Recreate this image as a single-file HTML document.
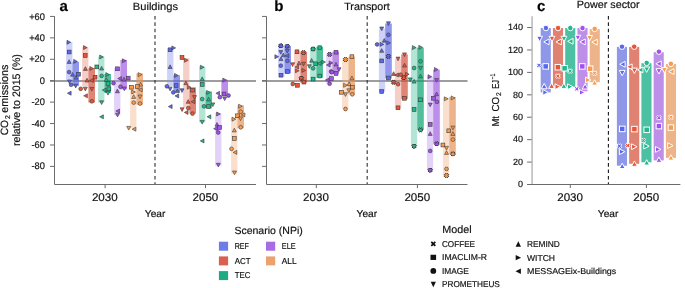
<!DOCTYPE html>
<html><head><meta charset="utf-8"><style>
html,body{margin:0;padding:0;background:#fff;width:685px;height:288px;overflow:hidden}
svg{display:block;will-change:transform}
text{font-family:"Liberation Sans", sans-serif;text-rendering:geometricPrecision;stroke:#111;stroke-width:0.18px;paint-order:stroke}
</style></head><body>
<svg width="685" height="288" viewBox="0 0 685 288" font-family='"Liberation Sans", sans-serif'>
<rect width="685" height="288" fill="#fff"/>
<line x1="50" y1="81" x2="256" y2="81" stroke="#7c7c7c" stroke-width="1.3"/>
<line x1="262" y1="81" x2="467.5" y2="81" stroke="#7c7c7c" stroke-width="1.3"/>
<rect x="66.10" y="42" width="6.3" height="38.80" fill="#878eeb" fill-opacity="0.4"/>
<rect x="72.40" y="61.8" width="6.6" height="24.00" fill="#5f6ae2" fill-opacity="0.7"/>
<rect x="82.10" y="47.2" width="6.3" height="39.10" fill="#e68773" fill-opacity="0.4"/>
<rect x="88.40" y="68.2" width="6.6" height="34.30" fill="#d3513b" fill-opacity="0.7"/>
<rect x="98.10" y="56.7" width="6.3" height="45.80" fill="#3ebe98" fill-opacity="0.4"/>
<rect x="104.40" y="74" width="6.6" height="19.00" fill="#08a46f" fill-opacity="0.7"/>
<rect x="114.10" y="68.2" width="6.3" height="47.10" fill="#b68eee" fill-opacity="0.4"/>
<rect x="120.40" y="59.9" width="6.6" height="29.50" fill="#a15ee0" fill-opacity="0.7"/>
<rect x="130.10" y="86.4" width="6.3" height="42.10" fill="#f0af80" fill-opacity="0.4"/>
<rect x="136.40" y="73.3" width="6.6" height="31.40" fill="#e5945b" fill-opacity="0.7"/>
<rect x="167.10" y="48.2" width="6.3" height="38.20" fill="#878eeb" fill-opacity="0.4"/>
<rect x="173.40" y="75.2" width="6.6" height="17.00" fill="#5f6ae2" fill-opacity="0.7"/>
<rect x="183.10" y="58.1" width="6.3" height="49.50" fill="#e68773" fill-opacity="0.4"/>
<rect x="189.40" y="87.4" width="6.6" height="26.20" fill="#d3513b" fill-opacity="0.7"/>
<rect x="199.10" y="66.5" width="6.3" height="55.90" fill="#3ebe98" fill-opacity="0.4"/>
<rect x="205.40" y="91.5" width="6.6" height="16.80" fill="#08a46f" fill-opacity="0.7"/>
<rect x="215.10" y="112.9" width="6.3" height="52.80" fill="#b68eee" fill-opacity="0.4"/>
<rect x="221.40" y="79.8" width="6.6" height="16.10" fill="#a15ee0" fill-opacity="0.7"/>
<rect x="231.10" y="117.3" width="6.3" height="56.40" fill="#f0af80" fill-opacity="0.4"/>
<rect x="237.40" y="105.4" width="6.6" height="22.80" fill="#e5945b" fill-opacity="0.7"/>
<rect x="278.10" y="45.3" width="6.3" height="31.70" fill="#878eeb" fill-opacity="0.4"/>
<rect x="284.40" y="46" width="6.6" height="27.30" fill="#5f6ae2" fill-opacity="0.7"/>
<rect x="294.10" y="51.2" width="6.3" height="30.80" fill="#e68773" fill-opacity="0.4"/>
<rect x="300.40" y="51.9" width="6.6" height="30.90" fill="#d3513b" fill-opacity="0.7"/>
<rect x="310.10" y="47.8" width="6.3" height="32.80" fill="#3ebe98" fill-opacity="0.4"/>
<rect x="316.40" y="46.8" width="6.6" height="30.90" fill="#08a46f" fill-opacity="0.7"/>
<rect x="326.10" y="54.1" width="6.3" height="29.40" fill="#b68eee" fill-opacity="0.4"/>
<rect x="332.40" y="51.6" width="6.6" height="22.40" fill="#a15ee0" fill-opacity="0.7"/>
<rect x="342.10" y="59.5" width="6.3" height="49.50" fill="#f0af80" fill-opacity="0.4"/>
<rect x="348.40" y="56.7" width="6.6" height="37.80" fill="#e5945b" fill-opacity="0.7"/>
<rect x="378.90" y="28.6" width="6.3" height="63.20" fill="#878eeb" fill-opacity="0.4"/>
<rect x="385.20" y="23.5" width="6.6" height="55.00" fill="#5f6ae2" fill-opacity="0.7"/>
<rect x="394.90" y="58.8" width="6.3" height="49.80" fill="#e68773" fill-opacity="0.4"/>
<rect x="401.20" y="54.4" width="6.6" height="44.70" fill="#d3513b" fill-opacity="0.7"/>
<rect x="410.90" y="47.6" width="6.3" height="98.50" fill="#3ebe98" fill-opacity="0.4"/>
<rect x="417.20" y="47.6" width="6.6" height="82.40" fill="#08a46f" fill-opacity="0.7"/>
<rect x="426.90" y="76.6" width="6.3" height="93.80" fill="#b68eee" fill-opacity="0.4"/>
<rect x="433.20" y="69.7" width="6.6" height="74.20" fill="#a15ee0" fill-opacity="0.7"/>
<rect x="442.90" y="97.7" width="6.3" height="79.30" fill="#f0af80" fill-opacity="0.4"/>
<rect x="449.20" y="97" width="6.6" height="57.10" fill="#e5945b" fill-opacity="0.7"/>
<rect x="540.70" y="28" width="10.1" height="64.40" fill="#8f97e8"/>
<rect x="552.95" y="28" width="10.1" height="58.30" fill="#e08272"/>
<rect x="565.20" y="28" width="10.1" height="58.70" fill="#4cc0a2"/>
<rect x="577.45" y="28" width="10.1" height="63.30" fill="#bd8fe8"/>
<rect x="589.70" y="29.1" width="10.1" height="53.10" fill="#edb48a"/>
<rect x="616.90" y="46.9" width="10.1" height="118.80" fill="#8f97e8"/>
<rect x="629.15" y="46.9" width="10.1" height="116.90" fill="#e08272"/>
<rect x="641.40" y="63.2" width="10.1" height="99.10" fill="#4cc0a2"/>
<rect x="653.65" y="52.2" width="10.1" height="108.20" fill="#bd8fe8"/>
<rect x="665.90" y="64" width="10.1" height="93.90" fill="#edb48a"/>
<path d="M70.70 42.30L67.00 40.30L67.00 44.30Z" fill="#5a68f0" stroke="#3a3a3a" stroke-width="0.6" stroke-linejoin="miter"/>
<rect x="67.30" y="50.10" width="3.80" height="3.80" fill="#5a68f0" stroke="#3a3a3a" stroke-width="0.6" stroke-linejoin="miter"/>
<path d="M69.10 59.70L71.10 63.40L67.10 63.40Z" fill="#5a68f0" stroke="#3a3a3a" stroke-width="0.6" stroke-linejoin="miter"/>
<circle cx="69.10" cy="72.10" r="1.90" fill="#5a68f0" stroke="#3a3a3a" stroke-width="0.6" stroke-linejoin="miter"/>
<path d="M69.50 83.70L71.50 80.00L67.50 80.00Z" fill="#5a68f0" stroke="#3a3a3a" stroke-width="0.6" stroke-linejoin="miter"/>
<path d="M67.40 93.20L71.10 91.20L71.10 95.20Z" fill="#5a68f0" stroke="#3a3a3a" stroke-width="0.6" stroke-linejoin="miter"/>
<path d="M77.40 61.40L73.70 59.40L73.70 63.40Z" fill="#5a68f0" stroke="#3a3a3a" stroke-width="0.6" stroke-linejoin="miter"/>
<path d="M72.50 72.50L74.50 76.20L70.50 76.20Z" fill="#5a68f0" stroke="#3a3a3a" stroke-width="0.6" stroke-linejoin="miter"/>
<rect x="76.50" y="72.30" width="3.80" height="3.80" fill="#5a68f0" stroke="#3a3a3a" stroke-width="0.6" stroke-linejoin="miter"/>
<path d="M75.90 75.50L77.90 79.20L73.90 79.20Z" fill="#5a68f0" stroke="#3a3a3a" stroke-width="0.6" stroke-linejoin="miter"/>
<circle cx="71.10" cy="84.70" r="1.90" fill="#5a68f0" stroke="#3a3a3a" stroke-width="0.6" stroke-linejoin="miter"/>
<path d="M75.70 87.90L77.70 84.20L73.70 84.20Z" fill="#5a68f0" stroke="#3a3a3a" stroke-width="0.6" stroke-linejoin="miter"/>
<path d="M87.20 47.60L83.50 45.60L83.50 49.60Z" fill="#e8553a" stroke="#3a3a3a" stroke-width="0.6" stroke-linejoin="miter"/>
<rect x="83.30" y="53.60" width="3.80" height="3.80" fill="#e8553a" stroke="#3a3a3a" stroke-width="0.6" stroke-linejoin="miter"/>
<path d="M85.40 66.70L87.40 70.40L83.40 70.40Z" fill="#e8553a" stroke="#3a3a3a" stroke-width="0.6" stroke-linejoin="miter"/>
<path d="M87.00 78.30L89.00 82.00L85.00 82.00Z" fill="#e8553a" stroke="#3a3a3a" stroke-width="0.6" stroke-linejoin="miter"/>
<circle cx="80.70" cy="88.80" r="1.90" fill="#e8553a" stroke="#3a3a3a" stroke-width="0.6" stroke-linejoin="miter"/>
<path d="M85.30 90.90L87.30 87.20L83.30 87.20Z" fill="#e8553a" stroke="#3a3a3a" stroke-width="0.6" stroke-linejoin="miter"/>
<path d="M83.70 95.80L87.40 93.80L87.40 97.80Z" fill="#e8553a" stroke="#3a3a3a" stroke-width="0.6" stroke-linejoin="miter"/>
<path d="M93.50 68.50L89.80 66.50L89.80 70.50Z" fill="#e8553a" stroke="#3a3a3a" stroke-width="0.6" stroke-linejoin="miter"/>
<rect x="93.20" y="75.30" width="3.80" height="3.80" fill="#e8553a" stroke="#3a3a3a" stroke-width="0.6" stroke-linejoin="miter"/>
<path d="M89.70 80.40L93.40 78.40L93.40 82.40Z" fill="#e8553a" stroke="#3a3a3a" stroke-width="0.6" stroke-linejoin="miter"/>
<path d="M91.80 91.10L93.80 87.40L89.80 87.40Z" fill="#e8553a" stroke="#3a3a3a" stroke-width="0.6" stroke-linejoin="miter"/>
<circle cx="91.80" cy="101.30" r="1.90" fill="#e8553a" stroke="#3a3a3a" stroke-width="0.6" stroke-linejoin="miter"/>
<path d="M103.40 57.00L99.70 55.00L99.70 59.00Z" fill="#1fb98a" stroke="#3a3a3a" stroke-width="0.6" stroke-linejoin="miter"/>
<rect x="94.90" y="65.00" width="3.80" height="3.80" fill="#1fb98a" stroke="#3a3a3a" stroke-width="0.6" stroke-linejoin="miter"/>
<path d="M101.60 66.30L103.60 70.00L99.60 70.00Z" fill="#1fb98a" stroke="#3a3a3a" stroke-width="0.6" stroke-linejoin="miter"/>
<circle cx="101.60" cy="75.90" r="1.90" fill="#1fb98a" stroke="#3a3a3a" stroke-width="0.6" stroke-linejoin="miter"/>
<path d="M101.60 104.50L103.60 100.80L99.60 100.80Z" fill="#1fb98a" stroke="#3a3a3a" stroke-width="0.6" stroke-linejoin="miter"/>
<path d="M99.70 116.80L103.40 114.80L103.40 118.80Z" fill="#1fb98a" stroke="#3a3a3a" stroke-width="0.6" stroke-linejoin="miter"/>
<path d="M109.50 74.60L105.80 72.60L105.80 76.60Z" fill="#1fb98a" stroke="#3a3a3a" stroke-width="0.6" stroke-linejoin="miter"/>
<path d="M106.30 77.70L108.30 81.40L104.30 81.40Z" fill="#1fb98a" stroke="#3a3a3a" stroke-width="0.6" stroke-linejoin="miter"/>
<rect x="106.10" y="81.70" width="3.80" height="3.80" fill="#1fb98a" stroke="#3a3a3a" stroke-width="0.6" stroke-linejoin="miter"/>
<rect x="107.00" y="86.90" width="3.80" height="3.80" fill="#1fb98a" stroke="#3a3a3a" stroke-width="0.6" stroke-linejoin="miter"/>
<path d="M102.30 90.10L106.00 88.10L106.00 92.10Z" fill="#1fb98a" stroke="#3a3a3a" stroke-width="0.6" stroke-linejoin="miter"/>
<path d="M108.00 95.10L110.00 91.40L106.00 91.40Z" fill="#1fb98a" stroke="#3a3a3a" stroke-width="0.6" stroke-linejoin="miter"/>
<rect x="115.60" y="66.90" width="3.80" height="3.80" fill="#a150f2" stroke="#3a3a3a" stroke-width="0.6" stroke-linejoin="miter"/>
<circle cx="113.50" cy="83.20" r="1.90" fill="#a150f2" stroke="#3a3a3a" stroke-width="0.6" stroke-linejoin="miter"/>
<path d="M117.40 89.10L119.40 92.80L115.40 92.80Z" fill="#a150f2" stroke="#3a3a3a" stroke-width="0.6" stroke-linejoin="miter"/>
<path d="M115.80 111.00L119.50 109.00L119.50 113.00Z" fill="#a150f2" stroke="#3a3a3a" stroke-width="0.6" stroke-linejoin="miter"/>
<path d="M117.50 116.90L119.50 113.20L115.50 113.20Z" fill="#a150f2" stroke="#3a3a3a" stroke-width="0.6" stroke-linejoin="miter"/>
<path d="M126.10 60.80L122.40 58.80L122.40 62.80Z" fill="#a150f2" stroke="#3a3a3a" stroke-width="0.6" stroke-linejoin="miter"/>
<path d="M117.70 78.50L121.40 76.50L121.40 80.50Z" fill="#a150f2" stroke="#3a3a3a" stroke-width="0.6" stroke-linejoin="miter"/>
<path d="M123.90 77.30L125.90 81.00L121.90 81.00Z" fill="#a150f2" stroke="#3a3a3a" stroke-width="0.6" stroke-linejoin="miter"/>
<rect x="126.30" y="76.20" width="3.80" height="3.80" fill="#a150f2" stroke="#3a3a3a" stroke-width="0.6" stroke-linejoin="miter"/>
<circle cx="120.50" cy="86.70" r="1.90" fill="#a150f2" stroke="#3a3a3a" stroke-width="0.6" stroke-linejoin="miter"/>
<path d="M124.30 90.70L126.30 87.00L122.30 87.00Z" fill="#a150f2" stroke="#3a3a3a" stroke-width="0.6" stroke-linejoin="miter"/>
<rect x="129.50" y="85.30" width="3.80" height="3.80" fill="#f99c4b" stroke="#3a3a3a" stroke-width="0.6" stroke-linejoin="miter"/>
<path d="M135.40 92.00L131.70 90.00L131.70 94.00Z" fill="#f99c4b" stroke="#3a3a3a" stroke-width="0.6" stroke-linejoin="miter"/>
<path d="M133.70 94.70L135.70 98.40L131.70 98.40Z" fill="#f99c4b" stroke="#3a3a3a" stroke-width="0.6" stroke-linejoin="miter"/>
<circle cx="133.70" cy="102.60" r="1.90" fill="#f99c4b" stroke="#3a3a3a" stroke-width="0.6" stroke-linejoin="miter"/>
<path d="M128.70 130.10L130.70 126.40L126.70 126.40Z" fill="#f99c4b" stroke="#3a3a3a" stroke-width="0.6" stroke-linejoin="miter"/>
<path d="M132.20 129.20L135.90 127.20L135.90 131.20Z" fill="#f99c4b" stroke="#3a3a3a" stroke-width="0.6" stroke-linejoin="miter"/>
<path d="M141.90 74.60L138.20 72.60L138.20 76.60Z" fill="#f99c4b" stroke="#3a3a3a" stroke-width="0.6" stroke-linejoin="miter"/>
<path d="M140.60 82.40L142.60 86.10L138.60 86.10Z" fill="#f99c4b" stroke="#3a3a3a" stroke-width="0.6" stroke-linejoin="miter"/>
<rect x="135.30" y="84.70" width="3.80" height="3.80" fill="#f99c4b" stroke="#3a3a3a" stroke-width="0.6" stroke-linejoin="miter"/>
<path d="M138.50 89.80L142.20 87.80L142.20 91.80Z" fill="#f99c4b" stroke="#3a3a3a" stroke-width="0.6" stroke-linejoin="miter"/>
<path d="M140.00 98.70L142.00 95.00L138.00 95.00Z" fill="#f99c4b" stroke="#3a3a3a" stroke-width="0.6" stroke-linejoin="miter"/>
<circle cx="140.00" cy="103.60" r="1.90" fill="#f99c4b" stroke="#3a3a3a" stroke-width="0.6" stroke-linejoin="miter"/>
<rect x="168.20" y="47.90" width="3.80" height="3.80" fill="#5a68f0" stroke="#3a3a3a" stroke-width="0.6" stroke-linejoin="miter"/>
<path d="M175.60 47.90L171.90 45.90L171.90 49.90Z" fill="#5a68f0" stroke="#3a3a3a" stroke-width="0.6" stroke-linejoin="miter"/>
<path d="M170.10 64.80L172.10 68.50L168.10 68.50Z" fill="#5a68f0" stroke="#3a3a3a" stroke-width="0.6" stroke-linejoin="miter"/>
<circle cx="166.90" cy="86.30" r="1.90" fill="#5a68f0" stroke="#3a3a3a" stroke-width="0.6" stroke-linejoin="miter"/>
<path d="M170.10 90.90L172.10 87.20L168.10 87.20Z" fill="#5a68f0" stroke="#3a3a3a" stroke-width="0.6" stroke-linejoin="miter"/>
<path d="M168.40 106.60L172.10 104.60L172.10 108.60Z" fill="#5a68f0" stroke="#3a3a3a" stroke-width="0.6" stroke-linejoin="miter"/>
<path d="M178.20 75.40L174.50 73.40L174.50 77.40Z" fill="#5a68f0" stroke="#3a3a3a" stroke-width="0.6" stroke-linejoin="miter"/>
<rect x="174.20" y="83.70" width="3.80" height="3.80" fill="#5a68f0" stroke="#3a3a3a" stroke-width="0.6" stroke-linejoin="miter"/>
<path d="M177.40 88.90L179.40 92.60L175.40 92.60Z" fill="#5a68f0" stroke="#3a3a3a" stroke-width="0.6" stroke-linejoin="miter"/>
<circle cx="173.30" cy="92.40" r="1.90" fill="#5a68f0" stroke="#3a3a3a" stroke-width="0.6" stroke-linejoin="miter"/>
<path d="M182.00 92.50L184.00 88.80L180.00 88.80Z" fill="#5a68f0" stroke="#3a3a3a" stroke-width="0.6" stroke-linejoin="miter"/>
<path d="M175.00 95.90L178.70 93.90L178.70 97.90Z" fill="#5a68f0" stroke="#3a3a3a" stroke-width="0.6" stroke-linejoin="miter"/>
<rect x="180.10" y="55.60" width="3.80" height="3.80" fill="#e8553a" stroke="#3a3a3a" stroke-width="0.6" stroke-linejoin="miter"/>
<path d="M188.20 60.30L184.50 58.30L184.50 62.30Z" fill="#e8553a" stroke="#3a3a3a" stroke-width="0.6" stroke-linejoin="miter"/>
<path d="M185.90 81.00L187.90 84.70L183.90 84.70Z" fill="#e8553a" stroke="#3a3a3a" stroke-width="0.6" stroke-linejoin="miter"/>
<path d="M182.10 111.50L184.10 107.80L180.10 107.80Z" fill="#e8553a" stroke="#3a3a3a" stroke-width="0.6" stroke-linejoin="miter"/>
<circle cx="188.30" cy="108.10" r="1.90" fill="#e8553a" stroke="#3a3a3a" stroke-width="0.6" stroke-linejoin="miter"/>
<path d="M184.30 112.40L188.00 110.40L188.00 114.40Z" fill="#e8553a" stroke="#3a3a3a" stroke-width="0.6" stroke-linejoin="miter"/>
<path d="M191.00 87.30L187.30 85.30L187.30 89.30Z" fill="#e8553a" stroke="#3a3a3a" stroke-width="0.6" stroke-linejoin="miter"/>
<rect x="190.60" y="88.20" width="3.80" height="3.80" fill="#e8553a" stroke="#3a3a3a" stroke-width="0.6" stroke-linejoin="miter"/>
<path d="M194.50 99.30L196.50 95.60L192.50 95.60Z" fill="#e8553a" stroke="#3a3a3a" stroke-width="0.6" stroke-linejoin="miter"/>
<path d="M188.20 99.60L190.20 103.30L186.20 103.30Z" fill="#e8553a" stroke="#3a3a3a" stroke-width="0.6" stroke-linejoin="miter"/>
<path d="M191.10 101.70L194.80 99.70L194.80 103.70Z" fill="#e8553a" stroke="#3a3a3a" stroke-width="0.6" stroke-linejoin="miter"/>
<circle cx="192.50" cy="113.60" r="1.90" fill="#e8553a" stroke="#3a3a3a" stroke-width="0.6" stroke-linejoin="miter"/>
<path d="M204.10 67.20L200.40 65.20L200.40 69.20Z" fill="#1fb98a" stroke="#3a3a3a" stroke-width="0.6" stroke-linejoin="miter"/>
<path d="M202.20 76.90L204.20 80.60L200.20 80.60Z" fill="#1fb98a" stroke="#3a3a3a" stroke-width="0.6" stroke-linejoin="miter"/>
<rect x="200.30" y="82.50" width="3.80" height="3.80" fill="#1fb98a" stroke="#3a3a3a" stroke-width="0.6" stroke-linejoin="miter"/>
<circle cx="202.20" cy="99.10" r="1.90" fill="#1fb98a" stroke="#3a3a3a" stroke-width="0.6" stroke-linejoin="miter"/>
<path d="M202.20 124.10L204.20 120.40L200.20 120.40Z" fill="#1fb98a" stroke="#3a3a3a" stroke-width="0.6" stroke-linejoin="miter"/>
<path d="M200.30 140.90L204.00 138.90L204.00 142.90Z" fill="#1fb98a" stroke="#3a3a3a" stroke-width="0.6" stroke-linejoin="miter"/>
<path d="M210.30 92.40L206.60 90.40L206.60 94.40Z" fill="#1fb98a" stroke="#3a3a3a" stroke-width="0.6" stroke-linejoin="miter"/>
<path d="M208.60 97.30L210.60 101.00L206.60 101.00Z" fill="#1fb98a" stroke="#3a3a3a" stroke-width="0.6" stroke-linejoin="miter"/>
<circle cx="203.90" cy="106.30" r="1.90" fill="#1fb98a" stroke="#3a3a3a" stroke-width="0.6" stroke-linejoin="miter"/>
<rect x="206.70" y="104.70" width="3.80" height="3.80" fill="#1fb98a" stroke="#3a3a3a" stroke-width="0.6" stroke-linejoin="miter"/>
<path d="M212.80 106.60L214.80 102.90L210.80 102.90Z" fill="#1fb98a" stroke="#3a3a3a" stroke-width="0.6" stroke-linejoin="miter"/>
<path d="M207.10 116.80L210.80 114.80L210.80 118.80Z" fill="#1fb98a" stroke="#3a3a3a" stroke-width="0.6" stroke-linejoin="miter"/>
<path d="M220.30 114.00L216.60 112.00L216.60 116.00Z" fill="#a150f2" stroke="#3a3a3a" stroke-width="0.6" stroke-linejoin="miter"/>
<path d="M217.00 122.50L219.00 126.20L215.00 126.20Z" fill="#a150f2" stroke="#3a3a3a" stroke-width="0.6" stroke-linejoin="miter"/>
<rect x="217.60" y="125.50" width="3.80" height="3.80" fill="#a150f2" stroke="#3a3a3a" stroke-width="0.6" stroke-linejoin="miter"/>
<path d="M213.60 128.70L217.30 126.70L217.30 130.70Z" fill="#a150f2" stroke="#3a3a3a" stroke-width="0.6" stroke-linejoin="miter"/>
<circle cx="218.20" cy="132.50" r="1.90" fill="#a150f2" stroke="#3a3a3a" stroke-width="0.6" stroke-linejoin="miter"/>
<path d="M218.30 167.00L220.30 163.30L216.30 163.30Z" fill="#a150f2" stroke="#3a3a3a" stroke-width="0.6" stroke-linejoin="miter"/>
<path d="M226.50 80.10L222.80 78.10L222.80 82.10Z" fill="#a150f2" stroke="#3a3a3a" stroke-width="0.6" stroke-linejoin="miter"/>
<path d="M215.90 93.30L219.60 91.30L219.60 95.30Z" fill="#a150f2" stroke="#3a3a3a" stroke-width="0.6" stroke-linejoin="miter"/>
<circle cx="219.80" cy="97.20" r="1.90" fill="#a150f2" stroke="#3a3a3a" stroke-width="0.6" stroke-linejoin="miter"/>
<rect x="222.10" y="92.10" width="3.80" height="3.80" fill="#a150f2" stroke="#3a3a3a" stroke-width="0.6" stroke-linejoin="miter"/>
<circle cx="228.50" cy="95.50" r="1.90" fill="#a150f2" stroke="#3a3a3a" stroke-width="0.6" stroke-linejoin="miter"/>
<path d="M224.70 100.60L226.70 96.90L222.70 96.90Z" fill="#a150f2" stroke="#3a3a3a" stroke-width="0.6" stroke-linejoin="miter"/>
<path d="M235.70 119.20L232.00 117.20L232.00 121.20Z" fill="#f99c4b" stroke="#3a3a3a" stroke-width="0.6" stroke-linejoin="miter"/>
<path d="M234.30 128.20L236.30 131.90L232.30 131.90Z" fill="#f99c4b" stroke="#3a3a3a" stroke-width="0.6" stroke-linejoin="miter"/>
<rect x="232.40" y="136.60" width="3.80" height="3.80" fill="#f99c4b" stroke="#3a3a3a" stroke-width="0.6" stroke-linejoin="miter"/>
<circle cx="231.50" cy="148.80" r="1.90" fill="#f99c4b" stroke="#3a3a3a" stroke-width="0.6" stroke-linejoin="miter"/>
<path d="M233.10 152.40L236.80 150.40L236.80 154.40Z" fill="#f99c4b" stroke="#3a3a3a" stroke-width="0.6" stroke-linejoin="miter"/>
<path d="M234.50 174.70L236.50 171.00L232.50 171.00Z" fill="#f99c4b" stroke="#3a3a3a" stroke-width="0.6" stroke-linejoin="miter"/>
<path d="M242.30 106.20L238.60 104.20L238.60 108.20Z" fill="#f99c4b" stroke="#3a3a3a" stroke-width="0.6" stroke-linejoin="miter"/>
<circle cx="240.70" cy="111.70" r="1.90" fill="#f99c4b" stroke="#3a3a3a" stroke-width="0.6" stroke-linejoin="miter"/>
<rect x="235.60" y="113.90" width="3.80" height="3.80" fill="#f99c4b" stroke="#3a3a3a" stroke-width="0.6" stroke-linejoin="miter"/>
<path d="M241.20 114.90L244.90 112.90L244.90 116.90Z" fill="#f99c4b" stroke="#3a3a3a" stroke-width="0.6" stroke-linejoin="miter"/>
<path d="M240.50 120.60L242.50 116.90L238.50 116.90Z" fill="#f99c4b" stroke="#3a3a3a" stroke-width="0.6" stroke-linejoin="miter"/>
<circle cx="240.70" cy="127.30" r="1.90" fill="#f99c4b" stroke="#3a3a3a" stroke-width="0.6" stroke-linejoin="miter"/>
<polygon points="280.02,47.99 280.80,47.21 281.58,47.99 282.99,46.58 282.21,45.80 282.99,45.02 281.58,43.61 280.80,44.39 280.02,43.61 278.61,45.02 279.39,45.80 278.61,46.58" fill="#5a68f0" stroke="#2a2a2a" stroke-width="0.9" stroke-linejoin="miter"/>
<path d="M280.80 54.30L282.80 50.60L278.80 50.60Z" fill="#5a68f0" stroke="#3a3a3a" stroke-width="0.6" stroke-linejoin="miter"/>
<path d="M278.60 56.70L274.90 54.70L274.90 58.70Z" fill="#5a68f0" stroke="#3a3a3a" stroke-width="0.6" stroke-linejoin="miter"/>
<path d="M281.00 56.90L283.00 60.60L279.00 60.60Z" fill="#5a68f0" stroke="#3a3a3a" stroke-width="0.6" stroke-linejoin="miter"/>
<circle cx="280.80" cy="65.70" r="1.90" fill="#5a68f0" stroke="#3a3a3a" stroke-width="0.6" stroke-linejoin="miter"/>
<rect x="279.10" y="73.30" width="3.80" height="3.80" fill="#5a68f0" stroke="#3a3a3a" stroke-width="0.6" stroke-linejoin="miter"/>
<polygon points="286.52,48.39 287.30,47.61 288.08,48.39 289.49,46.98 288.71,46.20 289.49,45.42 288.08,44.01 287.30,44.79 286.52,44.01 285.11,45.42 285.89,46.20 285.11,46.98" fill="#5a68f0" stroke="#2a2a2a" stroke-width="0.9" stroke-linejoin="miter"/>
<path d="M287.30 53.00L289.30 49.30L285.30 49.30Z" fill="#5a68f0" stroke="#3a3a3a" stroke-width="0.6" stroke-linejoin="miter"/>
<path d="M283.30 53.10L285.30 56.80L281.30 56.80Z" fill="#5a68f0" stroke="#3a3a3a" stroke-width="0.6" stroke-linejoin="miter"/>
<path d="M285.20 55.70L288.90 53.70L288.90 57.70Z" fill="#5a68f0" stroke="#3a3a3a" stroke-width="0.6" stroke-linejoin="miter"/>
<circle cx="287.40" cy="60.80" r="1.90" fill="#5a68f0" stroke="#3a3a3a" stroke-width="0.6" stroke-linejoin="miter"/>
<rect x="285.50" y="69.70" width="3.80" height="3.80" fill="#5a68f0" stroke="#3a3a3a" stroke-width="0.6" stroke-linejoin="miter"/>
<rect x="295.10" y="49.90" width="3.80" height="3.80" fill="#e8553a" stroke="#3a3a3a" stroke-width="0.6" stroke-linejoin="miter"/>
<path d="M292.60 66.50L294.60 62.80L290.60 62.80Z" fill="#e8553a" stroke="#3a3a3a" stroke-width="0.6" stroke-linejoin="miter"/>
<path d="M299.00 61.00L301.00 64.70L297.00 64.70Z" fill="#e8553a" stroke="#3a3a3a" stroke-width="0.6" stroke-linejoin="miter"/>
<path d="M294.90 67.00L298.60 65.00L298.60 69.00Z" fill="#e8553a" stroke="#3a3a3a" stroke-width="0.6" stroke-linejoin="miter"/>
<path d="M299.10 70.80L295.40 68.80L295.40 72.80Z" fill="#e8553a" stroke="#3a3a3a" stroke-width="0.6" stroke-linejoin="miter"/>
<circle cx="292.80" cy="84.00" r="1.90" fill="#e8553a" stroke="#3a3a3a" stroke-width="0.6" stroke-linejoin="miter"/>
<rect x="295.50" y="83.40" width="3.80" height="3.80" fill="#e8553a" stroke="#3a3a3a" stroke-width="0.6" stroke-linejoin="miter"/>
<polygon points="302.72,54.79 303.50,54.01 304.28,54.79 305.69,53.38 304.91,52.60 305.69,51.82 304.28,50.41 303.50,51.19 302.72,50.41 301.31,51.82 302.09,52.60 301.31,53.38" fill="#e8553a" stroke="#2a2a2a" stroke-width="0.9" stroke-linejoin="miter"/>
<path d="M303.50 65.90L305.50 62.20L301.50 62.20Z" fill="#e8553a" stroke="#3a3a3a" stroke-width="0.6" stroke-linejoin="miter"/>
<path d="M305.60 70.40L301.90 68.40L301.90 72.40Z" fill="#e8553a" stroke="#3a3a3a" stroke-width="0.6" stroke-linejoin="miter"/>
<polygon points="300.52,80.39 301.30,79.61 302.08,80.39 303.49,78.98 302.71,78.20 303.49,77.42 302.08,76.01 301.30,76.79 300.52,76.01 299.11,77.42 299.89,78.20 299.11,78.98" fill="#e8553a" stroke="#2a2a2a" stroke-width="0.9" stroke-linejoin="miter"/>
<rect x="302.00" y="80.20" width="3.80" height="3.80" fill="#e8553a" stroke="#3a3a3a" stroke-width="0.6" stroke-linejoin="miter"/>
<polygon points="312.32,51.19 313.10,50.41 313.88,51.19 315.29,49.78 314.51,49.00 315.29,48.22 313.88,46.81 313.10,47.59 312.32,46.81 310.91,48.22 311.69,49.00 310.91,49.78" fill="#1fb98a" stroke="#2a2a2a" stroke-width="0.9" stroke-linejoin="miter"/>
<path d="M311.60 58.50L313.60 62.20L309.60 62.20Z" fill="#1fb98a" stroke="#3a3a3a" stroke-width="0.6" stroke-linejoin="miter"/>
<path d="M309.30 68.40L311.30 64.70L307.30 64.70Z" fill="#1fb98a" stroke="#3a3a3a" stroke-width="0.6" stroke-linejoin="miter"/>
<circle cx="313.10" cy="68.30" r="1.90" fill="#1fb98a" stroke="#3a3a3a" stroke-width="0.6" stroke-linejoin="miter"/>
<rect x="311.20" y="77.20" width="3.80" height="3.80" fill="#1fb98a" stroke="#3a3a3a" stroke-width="0.6" stroke-linejoin="miter"/>
<rect x="317.90" y="45.80" width="3.80" height="3.80" fill="#1fb98a" stroke="#3a3a3a" stroke-width="0.6" stroke-linejoin="miter"/>
<rect x="313.80" y="61.90" width="3.80" height="3.80" fill="#1fb98a" stroke="#3a3a3a" stroke-width="0.6" stroke-linejoin="miter"/>
<path d="M317.50 63.50L321.20 61.50L321.20 65.50Z" fill="#1fb98a" stroke="#3a3a3a" stroke-width="0.6" stroke-linejoin="miter"/>
<path d="M325.50 62.10L321.80 60.10L321.80 64.10Z" fill="#1fb98a" stroke="#3a3a3a" stroke-width="0.6" stroke-linejoin="miter"/>
<rect x="317.90" y="74.10" width="3.80" height="3.80" fill="#1fb98a" stroke="#3a3a3a" stroke-width="0.6" stroke-linejoin="miter"/>
<polygon points="328.82,56.59 329.60,55.81 330.38,56.59 331.79,55.18 331.01,54.40 331.79,53.62 330.38,52.21 329.60,52.99 328.82,52.21 327.41,53.62 328.19,54.40 327.41,55.18" fill="#a150f2" stroke="#2a2a2a" stroke-width="0.9" stroke-linejoin="miter"/>
<path d="M332.90 62.90L329.20 60.90L329.20 64.90Z" fill="#a150f2" stroke="#3a3a3a" stroke-width="0.6" stroke-linejoin="miter"/>
<path d="M326.40 65.00L330.10 63.00L330.10 67.00Z" fill="#a150f2" stroke="#3a3a3a" stroke-width="0.6" stroke-linejoin="miter"/>
<circle cx="331.10" cy="71.50" r="1.90" fill="#a150f2" stroke="#3a3a3a" stroke-width="0.6" stroke-linejoin="miter"/>
<path d="M325.40 80.10L329.10 78.10L329.10 82.10Z" fill="#a150f2" stroke="#3a3a3a" stroke-width="0.6" stroke-linejoin="miter"/>
<rect x="329.50" y="76.70" width="3.80" height="3.80" fill="#a150f2" stroke="#3a3a3a" stroke-width="0.6" stroke-linejoin="miter"/>
<circle cx="329.60" cy="83.70" r="1.90" fill="#a150f2" stroke="#3a3a3a" stroke-width="0.6" stroke-linejoin="miter"/>
<rect x="334.10" y="50.30" width="3.80" height="3.80" fill="#a150f2" stroke="#3a3a3a" stroke-width="0.6" stroke-linejoin="miter"/>
<path d="M336.00 62.30L338.00 66.00L334.00 66.00Z" fill="#a150f2" stroke="#3a3a3a" stroke-width="0.6" stroke-linejoin="miter"/>
<path d="M339.00 71.40L341.00 67.70L337.00 67.70Z" fill="#a150f2" stroke="#3a3a3a" stroke-width="0.6" stroke-linejoin="miter"/>
<circle cx="331.90" cy="72.20" r="1.90" fill="#a150f2" stroke="#3a3a3a" stroke-width="0.6" stroke-linejoin="miter"/>
<rect x="334.10" y="71.60" width="3.80" height="3.80" fill="#a150f2" stroke="#3a3a3a" stroke-width="0.6" stroke-linejoin="miter"/>
<polygon points="344.72,61.69 345.50,60.91 346.28,61.69 347.69,60.28 346.91,59.50 347.69,58.72 346.28,57.31 345.50,58.09 344.72,57.31 343.31,58.72 344.09,59.50 343.31,60.28" fill="#f99c4b" stroke="#2a2a2a" stroke-width="0.9" stroke-linejoin="miter"/>
<rect x="339.50" y="90.40" width="3.80" height="3.80" fill="#f99c4b" stroke="#3a3a3a" stroke-width="0.6" stroke-linejoin="miter"/>
<path d="M345.50 96.40L347.50 92.70L343.50 92.70Z" fill="#f99c4b" stroke="#3a3a3a" stroke-width="0.6" stroke-linejoin="miter"/>
<circle cx="345.50" cy="109.00" r="1.90" fill="#f99c4b" stroke="#3a3a3a" stroke-width="0.6" stroke-linejoin="miter"/>
<rect x="350.00" y="54.80" width="3.80" height="3.80" fill="#f99c4b" stroke="#3a3a3a" stroke-width="0.6" stroke-linejoin="miter"/>
<path d="M351.90 76.10L353.90 79.80L349.90 79.80Z" fill="#f99c4b" stroke="#3a3a3a" stroke-width="0.6" stroke-linejoin="miter"/>
<path d="M349.10 81.90L351.10 85.60L347.10 85.60Z" fill="#f99c4b" stroke="#3a3a3a" stroke-width="0.6" stroke-linejoin="miter"/>
<path d="M347.30 85.30L343.60 83.30L343.60 87.30Z" fill="#f99c4b" stroke="#3a3a3a" stroke-width="0.6" stroke-linejoin="miter"/>
<rect x="350.40" y="85.30" width="3.80" height="3.80" fill="#f99c4b" stroke="#3a3a3a" stroke-width="0.6" stroke-linejoin="miter"/>
<path d="M348.80 92.50L350.80 88.80L346.80 88.80Z" fill="#f99c4b" stroke="#3a3a3a" stroke-width="0.6" stroke-linejoin="miter"/>
<circle cx="352.30" cy="94.30" r="1.90" fill="#f99c4b" stroke="#3a3a3a" stroke-width="0.6" stroke-linejoin="miter"/>
<path d="M381.70 30.70L383.70 27.00L379.70 27.00Z" fill="#5a68f0" stroke="#3a3a3a" stroke-width="0.6" stroke-linejoin="miter"/>
<circle cx="377.10" cy="44.40" r="1.90" fill="#5a68f0" stroke="#3a3a3a" stroke-width="0.6" stroke-linejoin="miter"/>
<path d="M383.80 44.40L380.10 42.40L380.10 46.40Z" fill="#5a68f0" stroke="#3a3a3a" stroke-width="0.6" stroke-linejoin="miter"/>
<path d="M381.70 48.60L383.70 52.30L379.70 52.30Z" fill="#5a68f0" stroke="#3a3a3a" stroke-width="0.6" stroke-linejoin="miter"/>
<rect x="379.80" y="59.00" width="3.80" height="3.80" fill="#5a68f0" stroke="#3a3a3a" stroke-width="0.6" stroke-linejoin="miter"/>
<rect x="379.80" y="89.60" width="3.80" height="3.80" fill="#5a68f0" stroke="#3a3a3a" stroke-width="0.6" stroke-linejoin="miter"/>
<path d="M388.40 25.50L390.40 21.80L386.40 21.80Z" fill="#5a68f0" stroke="#3a3a3a" stroke-width="0.6" stroke-linejoin="miter"/>
<circle cx="388.40" cy="34.80" r="1.90" fill="#5a68f0" stroke="#3a3a3a" stroke-width="0.6" stroke-linejoin="miter"/>
<path d="M384.30 38.50L386.30 42.20L382.30 42.20Z" fill="#5a68f0" stroke="#3a3a3a" stroke-width="0.6" stroke-linejoin="miter"/>
<path d="M390.50 42.90L386.80 40.90L386.80 44.90Z" fill="#5a68f0" stroke="#3a3a3a" stroke-width="0.6" stroke-linejoin="miter"/>
<polygon points="387.62,58.59 388.40,57.81 389.18,58.59 390.59,57.18 389.81,56.40 390.59,55.62 389.18,54.21 388.40,54.99 387.62,54.21 386.21,55.62 386.99,56.40 386.21,57.18" fill="#5a68f0" stroke="#2a2a2a" stroke-width="0.9" stroke-linejoin="miter"/>
<rect x="386.50" y="76.10" width="3.80" height="3.80" fill="#5a68f0" stroke="#3a3a3a" stroke-width="0.6" stroke-linejoin="miter"/>
<path d="M398.00 60.80L400.00 57.10L396.00 57.10Z" fill="#e8553a" stroke="#3a3a3a" stroke-width="0.6" stroke-linejoin="miter"/>
<path d="M393.60 71.70L395.60 75.40L391.60 75.40Z" fill="#e8553a" stroke="#3a3a3a" stroke-width="0.6" stroke-linejoin="miter"/>
<path d="M394.70 75.00L398.40 73.00L398.40 77.00Z" fill="#e8553a" stroke="#3a3a3a" stroke-width="0.6" stroke-linejoin="miter"/>
<polygon points="392.82,84.49 393.60,83.71 394.38,84.49 395.79,83.08 395.01,82.30 395.79,81.52 394.38,80.11 393.60,80.89 392.82,80.11 391.41,81.52 392.19,82.30 391.41,83.08" fill="#e8553a" stroke="#2a2a2a" stroke-width="0.9" stroke-linejoin="miter"/>
<circle cx="398.00" cy="84.20" r="1.90" fill="#e8553a" stroke="#3a3a3a" stroke-width="0.6" stroke-linejoin="miter"/>
<rect x="396.10" y="105.90" width="3.80" height="3.80" fill="#e8553a" stroke="#3a3a3a" stroke-width="0.6" stroke-linejoin="miter"/>
<path d="M404.50 56.60L406.50 52.90L402.50 52.90Z" fill="#e8553a" stroke="#3a3a3a" stroke-width="0.6" stroke-linejoin="miter"/>
<path d="M404.50 63.30L406.50 67.00L402.50 67.00Z" fill="#e8553a" stroke="#3a3a3a" stroke-width="0.6" stroke-linejoin="miter"/>
<circle cx="400.60" cy="74.70" r="1.90" fill="#e8553a" stroke="#3a3a3a" stroke-width="0.6" stroke-linejoin="miter"/>
<path d="M409.10 74.20L405.40 72.20L405.40 76.20Z" fill="#e8553a" stroke="#3a3a3a" stroke-width="0.6" stroke-linejoin="miter"/>
<polygon points="403.02,79.79 403.80,79.01 404.58,79.79 405.99,78.38 405.21,77.60 405.99,76.82 404.58,75.41 403.80,76.19 403.02,75.41 401.61,76.82 402.39,77.60 401.61,78.38" fill="#e8553a" stroke="#2a2a2a" stroke-width="0.9" stroke-linejoin="miter"/>
<rect x="402.60" y="96.40" width="3.80" height="3.80" fill="#e8553a" stroke="#3a3a3a" stroke-width="0.6" stroke-linejoin="miter"/>
<path d="M416.10 47.60L412.40 45.60L412.40 49.60Z" fill="#1fb98a" stroke="#3a3a3a" stroke-width="0.6" stroke-linejoin="miter"/>
<circle cx="414.10" cy="68.00" r="1.90" fill="#1fb98a" stroke="#3a3a3a" stroke-width="0.6" stroke-linejoin="miter"/>
<path d="M410.30 81.60L412.30 77.90L408.30 77.90Z" fill="#1fb98a" stroke="#3a3a3a" stroke-width="0.6" stroke-linejoin="miter"/>
<path d="M414.10 79.40L416.10 83.10L412.10 83.10Z" fill="#1fb98a" stroke="#3a3a3a" stroke-width="0.6" stroke-linejoin="miter"/>
<rect x="412.20" y="107.60" width="3.80" height="3.80" fill="#1fb98a" stroke="#3a3a3a" stroke-width="0.6" stroke-linejoin="miter"/>
<polygon points="413.32,148.39 414.10,147.61 414.88,148.39 416.29,146.98 415.51,146.20 416.29,145.42 414.88,144.01 414.10,144.79 413.32,144.01 411.91,145.42 412.69,146.20 411.91,146.98" fill="#1fb98a" stroke="#2a2a2a" stroke-width="0.9" stroke-linejoin="miter"/>
<path d="M422.50 47.30L418.80 45.30L418.80 49.30Z" fill="#1fb98a" stroke="#3a3a3a" stroke-width="0.6" stroke-linejoin="miter"/>
<circle cx="420.50" cy="61.30" r="1.90" fill="#1fb98a" stroke="#3a3a3a" stroke-width="0.6" stroke-linejoin="miter"/>
<path d="M420.50 70.10L422.50 66.40L418.50 66.40Z" fill="#1fb98a" stroke="#3a3a3a" stroke-width="0.6" stroke-linejoin="miter"/>
<path d="M420.50 74.20L422.50 77.90L418.50 77.90Z" fill="#1fb98a" stroke="#3a3a3a" stroke-width="0.6" stroke-linejoin="miter"/>
<rect x="418.60" y="97.90" width="3.80" height="3.80" fill="#1fb98a" stroke="#3a3a3a" stroke-width="0.6" stroke-linejoin="miter"/>
<polygon points="419.72,132.09 420.50,131.31 421.28,132.09 422.69,130.68 421.91,129.90 422.69,129.12 421.28,127.71 420.50,128.49 419.72,127.71 418.31,129.12 419.09,129.90 418.31,130.68" fill="#1fb98a" stroke="#2a2a2a" stroke-width="0.9" stroke-linejoin="miter"/>
<path d="M431.70 76.70L428.00 74.70L428.00 78.70Z" fill="#a150f2" stroke="#3a3a3a" stroke-width="0.6" stroke-linejoin="miter"/>
<path d="M430.20 106.80L432.20 103.10L428.20 103.10Z" fill="#a150f2" stroke="#3a3a3a" stroke-width="0.6" stroke-linejoin="miter"/>
<rect x="428.30" y="122.50" width="3.80" height="3.80" fill="#a150f2" stroke="#3a3a3a" stroke-width="0.6" stroke-linejoin="miter"/>
<path d="M430.20 131.70L432.20 135.40L428.20 135.40Z" fill="#a150f2" stroke="#3a3a3a" stroke-width="0.6" stroke-linejoin="miter"/>
<circle cx="430.20" cy="150.90" r="1.90" fill="#a150f2" stroke="#3a3a3a" stroke-width="0.6" stroke-linejoin="miter"/>
<polygon points="429.42,172.39 430.20,171.61 430.98,172.39 432.39,170.98 431.61,170.20 432.39,169.42 430.98,168.01 430.20,168.79 429.42,168.01 428.01,169.42 428.79,170.20 428.01,170.98" fill="#a150f2" stroke="#2a2a2a" stroke-width="0.9" stroke-linejoin="miter"/>
<path d="M438.10 69.50L434.40 67.50L434.40 71.50Z" fill="#a150f2" stroke="#3a3a3a" stroke-width="0.6" stroke-linejoin="miter"/>
<path d="M436.60 82.30L438.60 78.60L434.60 78.60Z" fill="#a150f2" stroke="#3a3a3a" stroke-width="0.6" stroke-linejoin="miter"/>
<path d="M436.60 92.00L438.60 95.70L434.60 95.70Z" fill="#a150f2" stroke="#3a3a3a" stroke-width="0.6" stroke-linejoin="miter"/>
<rect x="431.50" y="96.40" width="3.80" height="3.80" fill="#a150f2" stroke="#3a3a3a" stroke-width="0.6" stroke-linejoin="miter"/>
<circle cx="437.00" cy="101.80" r="1.90" fill="#a150f2" stroke="#3a3a3a" stroke-width="0.6" stroke-linejoin="miter"/>
<polygon points="435.92,145.99 436.70,145.21 437.48,145.99 438.89,144.58 438.11,143.80 438.89,143.02 437.48,141.61 436.70,142.39 435.92,141.61 434.51,143.02 435.29,143.80 434.51,144.58" fill="#a150f2" stroke="#2a2a2a" stroke-width="0.9" stroke-linejoin="miter"/>
<path d="M448.10 98.80L444.40 96.80L444.40 100.80Z" fill="#f99c4b" stroke="#3a3a3a" stroke-width="0.6" stroke-linejoin="miter"/>
<rect x="441.00" y="143.10" width="3.80" height="3.80" fill="#f99c4b" stroke="#3a3a3a" stroke-width="0.6" stroke-linejoin="miter"/>
<path d="M446.50 150.10L448.50 146.40L444.50 146.40Z" fill="#f99c4b" stroke="#3a3a3a" stroke-width="0.6" stroke-linejoin="miter"/>
<path d="M446.50 150.70L448.50 154.40L444.50 154.40Z" fill="#f99c4b" stroke="#3a3a3a" stroke-width="0.6" stroke-linejoin="miter"/>
<circle cx="446.50" cy="168.90" r="1.90" fill="#f99c4b" stroke="#3a3a3a" stroke-width="0.6" stroke-linejoin="miter"/>
<polygon points="445.72,177.69 446.50,176.91 447.28,177.69 448.69,176.28 447.91,175.50 448.69,174.72 447.28,173.31 446.50,174.09 445.72,173.31 444.31,174.72 445.09,175.50 444.31,176.28" fill="#f99c4b" stroke="#2a2a2a" stroke-width="0.9" stroke-linejoin="miter"/>
<path d="M454.90 97.90L451.20 95.90L451.20 99.90Z" fill="#f99c4b" stroke="#3a3a3a" stroke-width="0.6" stroke-linejoin="miter"/>
<path d="M452.90 129.80L454.90 126.10L450.90 126.10Z" fill="#f99c4b" stroke="#3a3a3a" stroke-width="0.6" stroke-linejoin="miter"/>
<rect x="446.90" y="128.90" width="3.80" height="3.80" fill="#f99c4b" stroke="#3a3a3a" stroke-width="0.6" stroke-linejoin="miter"/>
<path d="M452.90 131.70L454.90 135.40L450.90 135.40Z" fill="#f99c4b" stroke="#3a3a3a" stroke-width="0.6" stroke-linejoin="miter"/>
<circle cx="452.90" cy="139.60" r="1.90" fill="#f99c4b" stroke="#3a3a3a" stroke-width="0.6" stroke-linejoin="miter"/>
<polygon points="452.12,156.09 452.90,155.31 453.68,156.09 455.09,154.68 454.31,153.90 455.09,153.12 453.68,151.71 452.90,152.49 452.12,151.71 450.71,153.12 451.49,153.90 450.71,154.68" fill="#f99c4b" stroke="#2a2a2a" stroke-width="0.9" stroke-linejoin="miter"/>
<circle cx="545.90" cy="28.00" r="2.75" fill="#5a68f0" stroke="#ffffff" stroke-width="1.0" stroke-linejoin="miter"/>
<circle cx="558.10" cy="28.00" r="2.75" fill="#e8553a" stroke="#ffffff" stroke-width="1.0" stroke-linejoin="miter"/>
<circle cx="570.30" cy="28.00" r="2.75" fill="#1fb98a" stroke="#ffffff" stroke-width="1.0" stroke-linejoin="miter"/>
<circle cx="582.50" cy="28.10" r="2.75" fill="#a150f2" stroke="#ffffff" stroke-width="1.0" stroke-linejoin="miter"/>
<circle cx="594.70" cy="28.90" r="2.75" fill="#f99c4b" stroke="#ffffff" stroke-width="1.0" stroke-linejoin="miter"/>
<path d="M539.60 41.65L542.50 36.28L536.70 36.28Z" fill="#5a68f0" stroke="#ffffff" stroke-width="1.0" stroke-linejoin="miter"/>
<path d="M552.00 41.65L554.90 36.28L549.10 36.28Z" fill="#e8553a" stroke="#ffffff" stroke-width="1.0" stroke-linejoin="miter"/>
<path d="M564.00 41.65L566.90 36.28L561.10 36.28Z" fill="#1fb98a" stroke="#ffffff" stroke-width="1.0" stroke-linejoin="miter"/>
<path d="M577.90 40.65L580.80 35.28L575.00 35.28Z" fill="#a150f2" stroke="#ffffff" stroke-width="1.0" stroke-linejoin="miter"/>
<path d="M589.60 40.84L592.50 35.48L586.70 35.48Z" fill="#f99c4b" stroke="#ffffff" stroke-width="1.0" stroke-linejoin="miter"/>
<path d="M543.75 41.90L549.12 39.00L549.12 44.80Z" fill="#5a68f0" stroke="#ffffff" stroke-width="1.0" stroke-linejoin="miter"/>
<path d="M555.96 41.90L561.32 39.00L561.32 44.80Z" fill="#e8553a" stroke="#ffffff" stroke-width="1.0" stroke-linejoin="miter"/>
<path d="M567.66 41.30L573.02 38.40L573.02 44.20Z" fill="#1fb98a" stroke="#ffffff" stroke-width="1.0" stroke-linejoin="miter"/>
<path d="M579.86 41.90L585.22 39.00L585.22 44.80Z" fill="#a150f2" stroke="#ffffff" stroke-width="1.0" stroke-linejoin="miter"/>
<path d="M591.86 42.20L597.22 39.30L597.22 45.10Z" fill="#f99c4b" stroke="#ffffff" stroke-width="1.0" stroke-linejoin="miter"/>
<polygon points="537.87,67.66 539.00,66.53 540.13,67.66 541.36,66.43 540.23,65.30 541.36,64.17 540.13,62.94 539.00,64.07 537.87,62.94 536.64,64.17 537.77,65.30 536.64,66.43" fill="#5a68f0" stroke="#ffffff" stroke-width="1.0" stroke-linejoin="miter"/>
<rect x="542.95" y="63.65" width="5.51" height="5.51" fill="#5a68f0" stroke="#ffffff" stroke-width="1.0" stroke-linejoin="miter"/>
<path d="M544.20 83.45L547.10 88.82L541.30 88.82Z" fill="#5a68f0" stroke="#ffffff" stroke-width="1.0" stroke-linejoin="miter"/>
<path d="M548.14 92.40L542.78 89.50L542.78 95.30Z" fill="#5a68f0" stroke="#ffffff" stroke-width="1.0" stroke-linejoin="miter"/>
<rect x="555.14" y="64.45" width="5.51" height="5.51" fill="#e8553a" stroke="#ffffff" stroke-width="1.0" stroke-linejoin="miter"/>
<polygon points="556.77,78.46 557.90,77.33 559.03,78.46 560.26,77.23 559.13,76.10 560.26,74.97 559.03,73.74 557.90,74.87 556.77,73.74 555.54,74.97 556.67,76.10 555.54,77.23" fill="#e8553a" stroke="#ffffff" stroke-width="1.0" stroke-linejoin="miter"/>
<path d="M551.60 83.05L554.50 88.42L548.70 88.42Z" fill="#e8553a" stroke="#ffffff" stroke-width="1.0" stroke-linejoin="miter"/>
<path d="M560.34 86.70L554.98 83.80L554.98 89.60Z" fill="#e8553a" stroke="#ffffff" stroke-width="1.0" stroke-linejoin="miter"/>
<rect x="561.85" y="65.55" width="5.51" height="5.51" fill="#1fb98a" stroke="#ffffff" stroke-width="1.0" stroke-linejoin="miter"/>
<polygon points="568.97,73.46 570.10,72.33 571.23,73.46 572.46,72.23 571.33,71.10 572.46,69.97 571.23,68.74 570.10,69.87 568.97,68.74 567.74,69.97 568.87,71.10 567.74,72.23" fill="#1fb98a" stroke="#ffffff" stroke-width="1.0" stroke-linejoin="miter"/>
<path d="M563.80 83.05L566.70 88.42L560.90 88.42Z" fill="#1fb98a" stroke="#ffffff" stroke-width="1.0" stroke-linejoin="miter"/>
<path d="M572.84 86.70L567.48 83.80L567.48 89.60Z" fill="#1fb98a" stroke="#ffffff" stroke-width="1.0" stroke-linejoin="miter"/>
<rect x="579.54" y="63.65" width="5.51" height="5.51" fill="#a150f2" stroke="#ffffff" stroke-width="1.0" stroke-linejoin="miter"/>
<polygon points="575.67,91.26 576.80,90.13 577.93,91.26 579.16,90.03 578.03,88.90 579.16,87.77 577.93,86.54 576.80,87.67 575.67,86.54 574.44,87.77 575.57,88.90 574.44,90.03" fill="#a150f2" stroke="#ffffff" stroke-width="1.0" stroke-linejoin="miter"/>
<path d="M585.10 83.66L588.00 89.02L582.20 89.02Z" fill="#a150f2" stroke="#ffffff" stroke-width="1.0" stroke-linejoin="miter"/>
<path d="M584.84 92.40L579.48 89.50L579.48 95.30Z" fill="#a150f2" stroke="#ffffff" stroke-width="1.0" stroke-linejoin="miter"/>
<rect x="587.35" y="65.95" width="5.51" height="5.51" fill="#f99c4b" stroke="#ffffff" stroke-width="1.0" stroke-linejoin="miter"/>
<polygon points="593.47,75.66 594.60,74.53 595.73,75.66 596.96,74.43 595.83,73.30 596.96,72.17 595.73,70.94 594.60,72.07 593.47,70.94 592.24,72.17 593.37,73.30 592.24,74.43" fill="#f99c4b" stroke="#ffffff" stroke-width="1.0" stroke-linejoin="miter"/>
<path d="M590.94 80.00L585.58 77.10L585.58 82.90Z" fill="#f99c4b" stroke="#ffffff" stroke-width="1.0" stroke-linejoin="miter"/>
<path d="M594.60 79.75L597.50 85.12L591.70 85.12Z" fill="#f99c4b" stroke="#ffffff" stroke-width="1.0" stroke-linejoin="miter"/>
<circle cx="622.00" cy="46.70" r="2.75" fill="#5a68f0" stroke="#ffffff" stroke-width="1.0" stroke-linejoin="miter"/>
<circle cx="634.20" cy="46.70" r="2.75" fill="#e8553a" stroke="#ffffff" stroke-width="1.0" stroke-linejoin="miter"/>
<circle cx="646.70" cy="62.90" r="2.75" fill="#1fb98a" stroke="#ffffff" stroke-width="1.0" stroke-linejoin="miter"/>
<circle cx="658.90" cy="51.70" r="2.75" fill="#a150f2" stroke="#ffffff" stroke-width="1.0" stroke-linejoin="miter"/>
<circle cx="670.90" cy="63.80" r="2.75" fill="#f99c4b" stroke="#ffffff" stroke-width="1.0" stroke-linejoin="miter"/>
<path d="M619.75 64.30L625.12 61.40L625.12 67.20Z" fill="#5a68f0" stroke="#ffffff" stroke-width="1.0" stroke-linejoin="miter"/>
<path d="M626.75 66.80L632.12 63.90L632.12 69.70Z" fill="#e8553a" stroke="#ffffff" stroke-width="1.0" stroke-linejoin="miter"/>
<path d="M637.56 69.90L642.92 67.00L642.92 72.80Z" fill="#1fb98a" stroke="#ffffff" stroke-width="1.0" stroke-linejoin="miter"/>
<path d="M655.86 63.80L661.22 60.90L661.22 66.70Z" fill="#a150f2" stroke="#ffffff" stroke-width="1.0" stroke-linejoin="miter"/>
<path d="M668.66 71.60L674.02 68.70L674.02 74.50Z" fill="#f99c4b" stroke="#ffffff" stroke-width="1.0" stroke-linejoin="miter"/>
<path d="M622.20 75.75L625.10 70.38L619.30 70.38Z" fill="#5a68f0" stroke="#ffffff" stroke-width="1.0" stroke-linejoin="miter"/>
<path d="M634.40 73.45L637.30 68.08L631.50 68.08Z" fill="#e8553a" stroke="#ffffff" stroke-width="1.0" stroke-linejoin="miter"/>
<path d="M646.70 72.34L649.60 66.98L643.80 66.98Z" fill="#1fb98a" stroke="#ffffff" stroke-width="1.0" stroke-linejoin="miter"/>
<path d="M658.90 74.05L661.80 68.68L656.00 68.68Z" fill="#a150f2" stroke="#ffffff" stroke-width="1.0" stroke-linejoin="miter"/>
<path d="M664.40 72.95L667.30 67.58L661.50 67.58Z" fill="#f99c4b" stroke="#ffffff" stroke-width="1.0" stroke-linejoin="miter"/>
<polygon points="618.27,148.46 619.40,147.33 620.53,148.46 621.76,147.23 620.63,146.10 621.76,144.97 620.53,143.74 619.40,144.87 618.27,143.74 617.04,144.97 618.17,146.10 617.04,147.23" fill="#5a68f0" stroke="#ffffff" stroke-width="1.0" stroke-linejoin="miter"/>
<polygon points="626.67,147.96 627.80,146.83 628.93,147.96 630.16,146.73 629.03,145.60 630.16,144.47 628.93,143.24 627.80,144.37 626.67,143.24 625.44,144.47 626.57,145.60 625.44,146.73" fill="#e8553a" stroke="#ffffff" stroke-width="1.0" stroke-linejoin="miter"/>
<polygon points="642.17,142.96 643.30,141.83 644.43,142.96 645.66,141.73 644.53,140.60 645.66,139.47 644.43,138.24 643.30,139.37 642.17,138.24 640.94,139.47 642.07,140.60 640.94,141.73" fill="#1fb98a" stroke="#ffffff" stroke-width="1.0" stroke-linejoin="miter"/>
<polygon points="657.77,120.16 658.90,119.03 660.03,120.16 661.26,118.93 660.13,117.80 661.26,116.67 660.03,115.44 658.90,116.57 657.77,115.44 656.54,116.67 657.67,117.80 656.54,118.93" fill="#a150f2" stroke="#ffffff" stroke-width="1.0" stroke-linejoin="miter"/>
<polygon points="669.77,119.56 670.90,118.43 672.03,119.56 673.26,118.33 672.13,117.20 673.26,116.07 672.03,114.84 670.90,115.97 669.77,114.84 668.54,116.07 669.67,117.20 668.54,118.33" fill="#f99c4b" stroke="#ffffff" stroke-width="1.0" stroke-linejoin="miter"/>
<rect x="619.45" y="126.15" width="5.51" height="5.51" fill="#5a68f0" stroke="#ffffff" stroke-width="1.0" stroke-linejoin="miter"/>
<rect x="631.64" y="126.34" width="5.51" height="5.51" fill="#e8553a" stroke="#ffffff" stroke-width="1.0" stroke-linejoin="miter"/>
<rect x="643.95" y="127.05" width="5.51" height="5.51" fill="#1fb98a" stroke="#ffffff" stroke-width="1.0" stroke-linejoin="miter"/>
<rect x="656.14" y="123.34" width="5.51" height="5.51" fill="#a150f2" stroke="#ffffff" stroke-width="1.0" stroke-linejoin="miter"/>
<rect x="668.14" y="124.84" width="5.51" height="5.51" fill="#f99c4b" stroke="#ffffff" stroke-width="1.0" stroke-linejoin="miter"/>
<path d="M624.75 151.70L619.38 148.80L619.38 154.60Z" fill="#5a68f0" stroke="#ffffff" stroke-width="1.0" stroke-linejoin="miter"/>
<path d="M636.94 146.70L631.58 143.80L631.58 149.60Z" fill="#e8553a" stroke="#ffffff" stroke-width="1.0" stroke-linejoin="miter"/>
<path d="M649.14 146.10L643.78 143.20L643.78 149.00Z" fill="#1fb98a" stroke="#ffffff" stroke-width="1.0" stroke-linejoin="miter"/>
<path d="M660.84 149.40L655.48 146.50L655.48 152.30Z" fill="#a150f2" stroke="#ffffff" stroke-width="1.0" stroke-linejoin="miter"/>
<path d="M673.04 145.60L667.68 142.70L667.68 148.50Z" fill="#f99c4b" stroke="#ffffff" stroke-width="1.0" stroke-linejoin="miter"/>
<path d="M622.20 163.16L625.10 168.52L619.30 168.52Z" fill="#5a68f0" stroke="#ffffff" stroke-width="1.0" stroke-linejoin="miter"/>
<path d="M634.40 160.96L637.30 166.32L631.50 166.32Z" fill="#e8553a" stroke="#ffffff" stroke-width="1.0" stroke-linejoin="miter"/>
<path d="M646.70 159.66L649.60 165.02L643.80 165.02Z" fill="#1fb98a" stroke="#ffffff" stroke-width="1.0" stroke-linejoin="miter"/>
<path d="M658.90 156.96L661.80 162.32L656.00 162.32Z" fill="#a150f2" stroke="#ffffff" stroke-width="1.0" stroke-linejoin="miter"/>
<path d="M670.90 154.76L673.80 160.12L668.00 160.12Z" fill="#f99c4b" stroke="#ffffff" stroke-width="1.0" stroke-linejoin="miter"/>
<line x1="155" y1="15.9" x2="155" y2="184" stroke="#383838" stroke-width="1.15" stroke-dasharray="3.6 2.8"/>
<line x1="367.2" y1="15.9" x2="367.2" y2="184" stroke="#383838" stroke-width="1.15" stroke-dasharray="3.6 2.8"/>
<line x1="608.4" y1="15.9" x2="608.4" y2="184" stroke="#1a1a1a" stroke-width="1.1" stroke-dasharray="3.6 2.8"/>
<path d="M54.5 16.3 V184.5 H256" fill="none" stroke="#6b6b6b" stroke-width="1" stroke-linejoin="miter"/>
<line x1="50.0" y1="16.43" x2="54.5" y2="16.43" stroke="#6b6b6b" stroke-width="1"/>
<line x1="50.0" y1="37.86" x2="54.5" y2="37.86" stroke="#6b6b6b" stroke-width="1"/>
<line x1="50.0" y1="59.28" x2="54.5" y2="59.28" stroke="#6b6b6b" stroke-width="1"/>
<line x1="50.0" y1="80.70" x2="54.5" y2="80.70" stroke="#6b6b6b" stroke-width="1"/>
<line x1="50.0" y1="102.12" x2="54.5" y2="102.12" stroke="#6b6b6b" stroke-width="1"/>
<line x1="50.0" y1="123.54" x2="54.5" y2="123.54" stroke="#6b6b6b" stroke-width="1"/>
<line x1="50.0" y1="144.97" x2="54.5" y2="144.97" stroke="#6b6b6b" stroke-width="1"/>
<line x1="50.0" y1="166.39" x2="54.5" y2="166.39" stroke="#6b6b6b" stroke-width="1"/>
<path d="M266.5 16.3 V184.5 H467.5" fill="none" stroke="#6b6b6b" stroke-width="1" stroke-linejoin="miter"/>
<line x1="262.0" y1="16.43" x2="266.5" y2="16.43" stroke="#6b6b6b" stroke-width="1"/>
<line x1="262.0" y1="37.86" x2="266.5" y2="37.86" stroke="#6b6b6b" stroke-width="1"/>
<line x1="262.0" y1="59.28" x2="266.5" y2="59.28" stroke="#6b6b6b" stroke-width="1"/>
<line x1="262.0" y1="80.70" x2="266.5" y2="80.70" stroke="#6b6b6b" stroke-width="1"/>
<line x1="262.0" y1="102.12" x2="266.5" y2="102.12" stroke="#6b6b6b" stroke-width="1"/>
<line x1="262.0" y1="123.54" x2="266.5" y2="123.54" stroke="#6b6b6b" stroke-width="1"/>
<line x1="262.0" y1="144.97" x2="266.5" y2="144.97" stroke="#6b6b6b" stroke-width="1"/>
<line x1="262.0" y1="166.39" x2="266.5" y2="166.39" stroke="#6b6b6b" stroke-width="1"/>
<line x1="105.1" y1="184.2" x2="105.1" y2="188.2" stroke="#6b6b6b" stroke-width="1"/>
<line x1="205.5" y1="184.2" x2="205.5" y2="188.2" stroke="#6b6b6b" stroke-width="1"/>
<line x1="316.3" y1="184.2" x2="316.3" y2="188.2" stroke="#6b6b6b" stroke-width="1"/>
<line x1="417.4" y1="184.2" x2="417.4" y2="188.2" stroke="#6b6b6b" stroke-width="1"/>
<line x1="532.1" y1="16.3" x2="532.1" y2="184.5" stroke="#c4c4c4" stroke-width="1.8"/>
<line x1="527.2" y1="184.5" x2="680.4" y2="184.5" stroke="#6b6b6b" stroke-width="1"/>
<line x1="527.1" y1="184.50" x2="531.6" y2="184.50" stroke="#6b6b6b" stroke-width="1"/>
<text x="523.1" y="187.2" font-size="9.0" text-anchor="end" font-weight="normal" fill="#111" >0</text>
<line x1="527.1" y1="162.08" x2="531.6" y2="162.08" stroke="#6b6b6b" stroke-width="1"/>
<text x="523.1" y="164.77999999999997" font-size="9.0" text-anchor="end" font-weight="normal" fill="#111" >20</text>
<line x1="527.1" y1="139.66" x2="531.6" y2="139.66" stroke="#6b6b6b" stroke-width="1"/>
<text x="523.1" y="142.35999999999999" font-size="9.0" text-anchor="end" font-weight="normal" fill="#111" >40</text>
<line x1="527.1" y1="117.24" x2="531.6" y2="117.24" stroke="#6b6b6b" stroke-width="1"/>
<text x="523.1" y="119.94" font-size="9.0" text-anchor="end" font-weight="normal" fill="#111" >60</text>
<line x1="527.1" y1="94.82" x2="531.6" y2="94.82" stroke="#6b6b6b" stroke-width="1"/>
<text x="523.1" y="97.52" font-size="9.0" text-anchor="end" font-weight="normal" fill="#111" >80</text>
<line x1="527.1" y1="72.40" x2="531.6" y2="72.40" stroke="#6b6b6b" stroke-width="1"/>
<text x="523.1" y="75.10000000000001" font-size="9.0" text-anchor="end" font-weight="normal" fill="#111" >100</text>
<line x1="527.1" y1="49.98" x2="531.6" y2="49.98" stroke="#6b6b6b" stroke-width="1"/>
<text x="523.1" y="52.67999999999999" font-size="9.0" text-anchor="end" font-weight="normal" fill="#111" >120</text>
<line x1="527.1" y1="27.56" x2="531.6" y2="27.56" stroke="#6b6b6b" stroke-width="1"/>
<text x="523.1" y="30.26" font-size="9.0" text-anchor="end" font-weight="normal" fill="#111" >140</text>
<line x1="570.3" y1="184.2" x2="570.3" y2="188" stroke="#6b6b6b" stroke-width="1"/>
<line x1="646.4" y1="184.2" x2="646.4" y2="188" stroke="#6b6b6b" stroke-width="1"/>
<text x="44.9" y="19.534000000000013" font-size="9.7" text-anchor="end" font-weight="normal" fill="#111" textLength="15.77" lengthAdjust="spacingAndGlyphs" >+60</text>
<text x="44.9" y="40.95600000000001" font-size="9.7" text-anchor="end" font-weight="normal" fill="#111" textLength="15.77" lengthAdjust="spacingAndGlyphs" >+40</text>
<text x="44.9" y="62.37800000000001" font-size="9.7" text-anchor="end" font-weight="normal" fill="#111" textLength="15.77" lengthAdjust="spacingAndGlyphs" >+20</text>
<text x="44.9" y="83.8" font-size="9.7" text-anchor="end" font-weight="normal" fill="#111" textLength="5.17" lengthAdjust="spacingAndGlyphs" >0</text>
<text x="44.9" y="105.222" font-size="9.7" text-anchor="end" font-weight="normal" fill="#111" textLength="13.44" lengthAdjust="spacingAndGlyphs" >-20</text>
<text x="44.9" y="126.64399999999999" font-size="9.7" text-anchor="end" font-weight="normal" fill="#111" textLength="13.44" lengthAdjust="spacingAndGlyphs" >-40</text>
<text x="44.9" y="148.066" font-size="9.7" text-anchor="end" font-weight="normal" fill="#111" textLength="13.44" lengthAdjust="spacingAndGlyphs" >-60</text>
<text x="44.9" y="169.48799999999997" font-size="9.7" text-anchor="end" font-weight="normal" fill="#111" textLength="13.44" lengthAdjust="spacingAndGlyphs" >-80</text>
<text x="104.8" y="201.3" font-size="11.2" text-anchor="middle" font-weight="normal" fill="#111" textLength="25.8" lengthAdjust="spacingAndGlyphs" >2030</text>
<text x="205.4" y="201.3" font-size="11.2" text-anchor="middle" font-weight="normal" fill="#111" textLength="25.8" lengthAdjust="spacingAndGlyphs" >2050</text>
<text x="316" y="201.3" font-size="11.2" text-anchor="middle" font-weight="normal" fill="#111" textLength="25.8" lengthAdjust="spacingAndGlyphs" >2030</text>
<text x="417.3" y="201.3" font-size="11.2" text-anchor="middle" font-weight="normal" fill="#111" textLength="25.8" lengthAdjust="spacingAndGlyphs" >2050</text>
<text x="570.1" y="201.3" font-size="11.2" text-anchor="middle" font-weight="normal" fill="#111" textLength="25.8" lengthAdjust="spacingAndGlyphs" >2030</text>
<text x="646.2" y="201.3" font-size="11.2" text-anchor="middle" font-weight="normal" fill="#111" textLength="25.8" lengthAdjust="spacingAndGlyphs" >2050</text>
<text x="155.1" y="216.9" font-size="10.0" text-anchor="middle" font-weight="normal" fill="#111" textLength="20.6" lengthAdjust="spacingAndGlyphs" >Year</text>
<text x="366.9" y="216.9" font-size="10.0" text-anchor="middle" font-weight="normal" fill="#111" textLength="20.6" lengthAdjust="spacingAndGlyphs" >Year</text>
<text x="608.1" y="216.9" font-size="10.0" text-anchor="middle" font-weight="normal" fill="#111" textLength="20.6" lengthAdjust="spacingAndGlyphs" >Year</text>
<text x="59.6" y="10.9" font-size="15" text-anchor="start" font-weight="bold" fill="#000" >a</text>
<text x="274.2" y="11" font-size="15" text-anchor="start" font-weight="bold" fill="#000" >b</text>
<text x="536.9" y="11" font-size="15" text-anchor="start" font-weight="bold" fill="#000" >c</text>
<text x="132.8" y="9.65" font-size="10.5" text-anchor="start" font-weight="normal" fill="#111" textLength="45.2" lengthAdjust="spacingAndGlyphs" >Buildings</text>
<text x="344.2" y="9.65" font-size="10.5" text-anchor="start" font-weight="normal" fill="#111" textLength="45.6" lengthAdjust="spacingAndGlyphs" >Transport</text>
<text x="576.7" y="7.9" font-size="10.5" text-anchor="start" font-weight="normal" fill="#111" textLength="63" lengthAdjust="spacingAndGlyphs" >Power sector</text>
<g transform="rotate(-90)" fill="#111">
<text x="-135.3" y="7.9" font-size="10.6" textLength="15.3" lengthAdjust="spacingAndGlyphs">CO</text>
<text x="-118.9" y="9.9" font-size="7">2</text>
<text x="-112.7" y="7.9" font-size="10.8" textLength="48" lengthAdjust="spacingAndGlyphs">emissions</text>
<text x="-146" y="20" font-size="10.8" textLength="91.9" lengthAdjust="spacingAndGlyphs">relative to 2015 (%)</text>
<text x="-126.6" y="499" font-size="10.1" textLength="10.6" lengthAdjust="spacingAndGlyphs">Mt</text>
<text x="-111.6" y="499" font-size="10.1" textLength="14.6" lengthAdjust="spacingAndGlyphs">CO</text>
<text x="-96" y="501.2" font-size="6.8">2</text>
<text x="-88.8" y="499" font-size="10.1" textLength="9" lengthAdjust="spacingAndGlyphs">EJ</text>
<text x="-79.4" y="495" font-size="6.8" textLength="5.8" lengthAdjust="spacingAndGlyphs">−1</text>
</g>
<text x="234.4" y="233.7" font-size="10.4" text-anchor="start" font-weight="normal" fill="#111" textLength="68.4" lengthAdjust="spacingAndGlyphs" >Scenario (NPi)</text>
<rect x="218.9" y="241.7" width="9.2" height="9" fill="#6d7ce6"/>
<text x="234.70000000000002" y="248.79999999999998" font-size="8.6" text-anchor="start" font-weight="normal" fill="#111" textLength="14.2" lengthAdjust="spacingAndGlyphs" >REF</text>
<rect x="218.9" y="256.4" width="9.2" height="9" fill="#d9604f"/>
<text x="234.70000000000002" y="263.5" font-size="8.6" text-anchor="start" font-weight="normal" fill="#111" textLength="15.8" lengthAdjust="spacingAndGlyphs" >ACT</text>
<rect x="218.9" y="271.09999999999997" width="9.2" height="9" fill="#1eaa85"/>
<text x="234.70000000000002" y="278.2" font-size="8.6" text-anchor="start" font-weight="normal" fill="#111" textLength="15.7" lengthAdjust="spacingAndGlyphs" >TEC</text>
<rect x="266.0" y="241.7" width="9.2" height="9" fill="#a86ce3"/>
<text x="281.8" y="248.79999999999998" font-size="8.6" text-anchor="start" font-weight="normal" fill="#111" textLength="13.8" lengthAdjust="spacingAndGlyphs" >ELE</text>
<rect x="266.0" y="256.4" width="9.2" height="9" fill="#eba26f"/>
<text x="281.8" y="263.5" font-size="8.6" text-anchor="start" font-weight="normal" fill="#111" textLength="14.8" lengthAdjust="spacingAndGlyphs" >ALL</text>
<text x="442.3" y="233.1" font-size="10.6" text-anchor="start" font-weight="normal" fill="#111" textLength="29.4" lengthAdjust="spacingAndGlyphs" >Model</text>
<path d="M431.30 241.80L435.30 245.80M435.30 241.80L431.30 245.80" stroke="#111" stroke-width="1.8" stroke-linecap="butt"/>
<text x="442" y="246.8" font-size="8.5" text-anchor="start" font-weight="normal" fill="#111" textLength="33" lengthAdjust="spacingAndGlyphs" >COFFEE</text>
<rect x="430.50" y="254.75" width="5.6" height="5.2" fill="#111"/>
<text x="442" y="260.35" font-size="8.5" text-anchor="start" font-weight="normal" fill="#111" textLength="45" lengthAdjust="spacingAndGlyphs" >IMACLIM-R</text>
<circle cx="433.30" cy="270.90" r="2.9" fill="#111"/>
<text x="442" y="273.90000000000003" font-size="8.5" text-anchor="start" font-weight="normal" fill="#111" textLength="26.9" lengthAdjust="spacingAndGlyphs" >IMAGE</text>
<path d="M433.30 287.25L435.90 281.65L430.70 281.65Z" fill="#111"/>
<text x="442" y="287.45000000000005" font-size="8.5" text-anchor="start" font-weight="normal" fill="#111" textLength="57.8" lengthAdjust="spacingAndGlyphs" >PROMETHEUS</text>
<path d="M518.30 241.30L521.00 246.70L515.60 246.70Z" fill="#111"/>
<text x="527" y="247.1" font-size="8.5" text-anchor="start" font-weight="normal" fill="#111" textLength="32.9" lengthAdjust="spacingAndGlyphs" >REMIND</text>
<path d="M521.10 257.65L515.70 254.95L515.70 260.35Z" fill="#111"/>
<text x="527" y="260.65" font-size="8.5" text-anchor="start" font-weight="normal" fill="#111" textLength="28" lengthAdjust="spacingAndGlyphs" >WITCH</text>
<path d="M515.50 271.20L520.90 268.50L520.90 273.90Z" fill="#111"/>
<text x="527" y="274.2" font-size="8.5" text-anchor="start" font-weight="normal" fill="#111" textLength="89.2" lengthAdjust="spacingAndGlyphs" >MESSAGEix-Buildings</text>
</svg>
</body></html>
